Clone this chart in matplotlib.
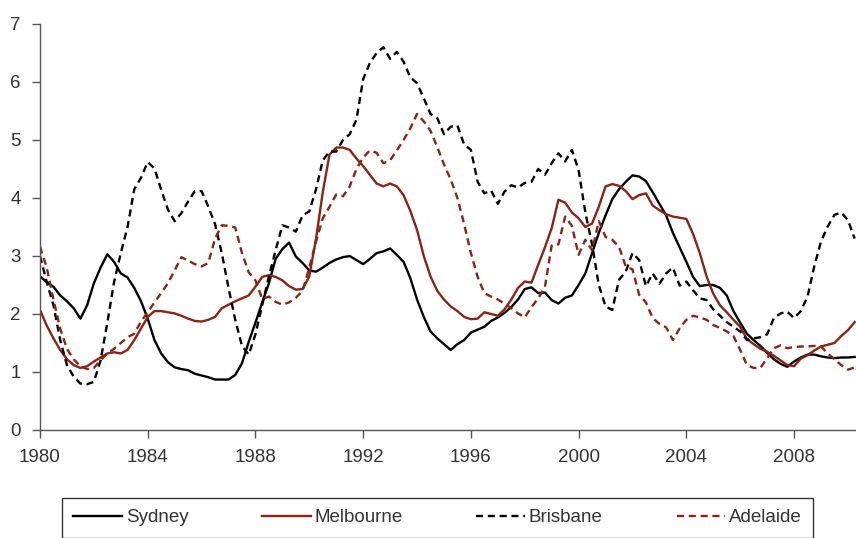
import numpy as np
import matplotlib
matplotlib.use("Agg")
import matplotlib.pyplot as plt

# quarterly observations, 1980 Q1 .. 2010 Q2
quarters = np.arange(1980, 2010.26, 0.25)

sydney = [
    2.65, 2.55, 2.47, 2.32, 2.22, 2.10, 1.92, 2.15, 2.53, 2.80, 3.03, 2.90,
    2.70, 2.63, 2.45, 2.22, 1.92, 1.55, 1.32, 1.17, 1.08, 1.05, 1.03, 0.97,
    0.94, 0.91, 0.87, 0.87, 0.87, 0.95, 1.15, 1.52, 1.85, 2.20, 2.53, 2.95,
    3.12, 3.23, 2.99, 2.88, 2.75, 2.73, 2.80, 2.88, 2.94, 2.98, 3.00, 2.93,
    2.86, 2.95, 3.05, 3.08, 3.13, 3.02, 2.90, 2.62, 2.25, 1.95, 1.70, 1.58,
    1.48, 1.38, 1.48, 1.55, 1.68, 1.73, 1.78, 1.88, 1.94, 2.02, 2.12, 2.25,
    2.43, 2.46, 2.36, 2.37, 2.24, 2.18, 2.28, 2.32, 2.50, 2.70, 3.05, 3.40,
    3.70, 3.98, 4.15, 4.28, 4.39, 4.37, 4.29, 4.10, 3.90, 3.70, 3.40, 3.15,
    2.90, 2.64, 2.48, 2.50, 2.50, 2.45, 2.32, 2.05, 1.85, 1.66, 1.55, 1.45,
    1.33, 1.22, 1.14, 1.09, 1.18, 1.25, 1.30, 1.30, 1.27, 1.25, 1.24, 1.25,
    1.25, 1.26,
]
melbourne = [
    2.07, 1.80, 1.58, 1.38, 1.22, 1.12, 1.07, 1.10, 1.18, 1.25, 1.32, 1.34,
    1.32, 1.38, 1.55, 1.75, 1.95, 2.05, 2.05, 2.03, 2.01, 1.97, 1.92, 1.88,
    1.87, 1.90, 1.95, 2.10, 2.16, 2.22, 2.27, 2.32, 2.47, 2.64, 2.67, 2.64,
    2.58, 2.48, 2.42, 2.43, 2.65, 3.30, 4.10, 4.75, 4.87, 4.87, 4.83, 4.68,
    4.55, 4.40, 4.25, 4.20, 4.25, 4.20, 4.05, 3.78, 3.45, 3.00, 2.65, 2.40,
    2.25, 2.13, 2.05, 1.95, 1.91, 1.92, 2.03, 2.00, 1.97, 2.08, 2.25, 2.45,
    2.56, 2.54, 2.85, 3.15, 3.48, 3.97, 3.92, 3.75, 3.65, 3.50, 3.56, 3.85,
    4.20, 4.24, 4.21, 4.12, 3.98, 4.05, 4.08, 3.87, 3.79, 3.72, 3.68, 3.66,
    3.64, 3.38, 3.05, 2.65, 2.35, 2.15, 2.03, 1.90, 1.78, 1.57, 1.48, 1.40,
    1.35, 1.28, 1.20, 1.12, 1.10, 1.23, 1.29, 1.37, 1.44, 1.47, 1.50, 1.62,
    1.72, 1.86,
]
brisbane = [
    3.00, 2.55, 2.15, 1.55, 1.12, 0.92, 0.80, 0.79, 0.83, 1.20, 1.85, 2.55,
    3.05, 3.50, 4.15, 4.35, 4.62, 4.51, 4.14, 3.80, 3.60, 3.74, 3.94, 4.12,
    4.12, 3.85, 3.55, 3.05, 2.45, 1.90, 1.45, 1.30, 1.65, 2.15, 2.65, 3.10,
    3.53, 3.49, 3.42, 3.70, 3.77, 4.15, 4.65, 4.80, 4.80, 5.00, 5.10, 5.35,
    6.05, 6.33, 6.50, 6.60, 6.40, 6.52, 6.35, 6.08, 5.98, 5.72, 5.45, 5.38,
    5.10, 5.23, 5.25, 4.92, 4.83, 4.28, 4.08, 4.13, 3.90, 4.11, 4.22, 4.18,
    4.26, 4.28, 4.50, 4.40, 4.60, 4.77, 4.63, 4.83, 4.48, 3.75, 3.20, 2.50,
    2.13, 2.07, 2.59, 2.73, 3.05, 2.93, 2.48, 2.70, 2.52, 2.70, 2.80, 2.49,
    2.56, 2.41, 2.27, 2.24, 2.08, 1.97, 1.86, 1.78, 1.70, 1.55, 1.58, 1.60,
    1.65, 1.93, 2.01, 2.04, 1.93, 2.05, 2.30, 2.82, 3.25, 3.51, 3.71, 3.75,
    3.62, 3.30,
]
adelaide = [
    3.16, 2.80, 2.25, 1.75, 1.40, 1.22, 1.10, 1.05, 1.07, 1.20, 1.32, 1.40,
    1.50, 1.60, 1.66, 1.87, 2.03, 2.20, 2.36, 2.53, 2.75, 2.98, 2.92, 2.86,
    2.82, 2.88, 3.30, 3.53, 3.52, 3.49, 3.05, 2.72, 2.58, 2.26, 2.30, 2.21,
    2.16, 2.20, 2.28, 2.40, 2.80, 3.25, 3.65, 3.85, 4.06, 4.03, 4.20, 4.50,
    4.70, 4.82, 4.78, 4.60, 4.65, 4.82, 5.00, 5.20, 5.45, 5.32, 5.16, 4.88,
    4.58, 4.32, 4.00, 3.55, 3.05, 2.64, 2.36, 2.30, 2.25, 2.18, 2.10, 2.01,
    1.94, 2.12, 2.27, 2.47, 3.18, 3.20, 3.68, 3.52, 3.02, 3.28, 3.10, 3.60,
    3.33, 3.28, 3.16, 2.82, 2.77, 2.33, 2.20, 1.93, 1.83, 1.77, 1.55, 1.75,
    1.90, 1.97, 1.94, 1.90, 1.81, 1.76, 1.70, 1.62, 1.38, 1.12, 1.07, 1.07,
    1.24, 1.41, 1.46, 1.41, 1.43, 1.44, 1.44, 1.45, 1.44, 1.32, 1.22, 1.12,
    1.04, 1.08,
]

year_ticks = [1980, 1984, 1988, 1992, 1996, 2000, 2004, 2008]
value_ticks = [0, 1, 2, 3, 4, 5, 6, 7]

red = '#8b2414'
text_col = '#333333'
plt.rcParams['font.family'] = ['Liberation Sans', 'DejaVu Sans']

fig = plt.figure(figsize=(8.56, 5.38), dpi=100)
ax = fig.add_axes([40 / 856, 1 - 430 / 538, 816 / 856, 406 / 538])

ax.plot(quarters, sydney, color='black', lw=1.7, label='Sydney')
ax.plot(quarters, melbourne, color=red, lw=1.7, label='Melbourne')
ax.plot(quarters, brisbane, color='black', lw=1.7, dashes=(3, 2), label='Brisbane')
ax.plot(quarters, adelaide, color=red, lw=1.7, dashes=(3, 2), label='Adelaide')

ax.set_xlim(1980, 2010.3)
ax.set_ylim(0, 7)
ax.set_xticks(year_ticks)
ax.set_yticks(value_ticks)
ax.tick_params(direction='out', length=6, width=1, color='#555555',
               labelsize=13.5, labelcolor=text_col)
ax.tick_params(axis='x', pad=8)
ax.tick_params(axis='y', pad=8)
for side in ['top', 'right']:
    ax.spines[side].set_visible(False)
for side in ['left', 'bottom']:
    ax.spines[side].set_color('#555555')
    ax.spines[side].set_linewidth(1)

# legend box: top edge at y=498 px, runs off the bottom of the figure
top = 1 - 498 / 538
leg = fig.legend(loc='upper left', bbox_to_anchor=(62 / 856, top - 0.07, 751 / 856, 0.07),
                 mode='expand', ncol=4, frameon=True, fancybox=False,
                 edgecolor='black', fontsize=13.5, handlelength=2.6,
                 handletextpad=0.2, borderaxespad=0, borderpad=0.6)
leg.get_frame().set_linewidth(1)
for t in leg.get_texts():
    t.set_color(text_col)

fig.savefig('out.png', dpi=100)
